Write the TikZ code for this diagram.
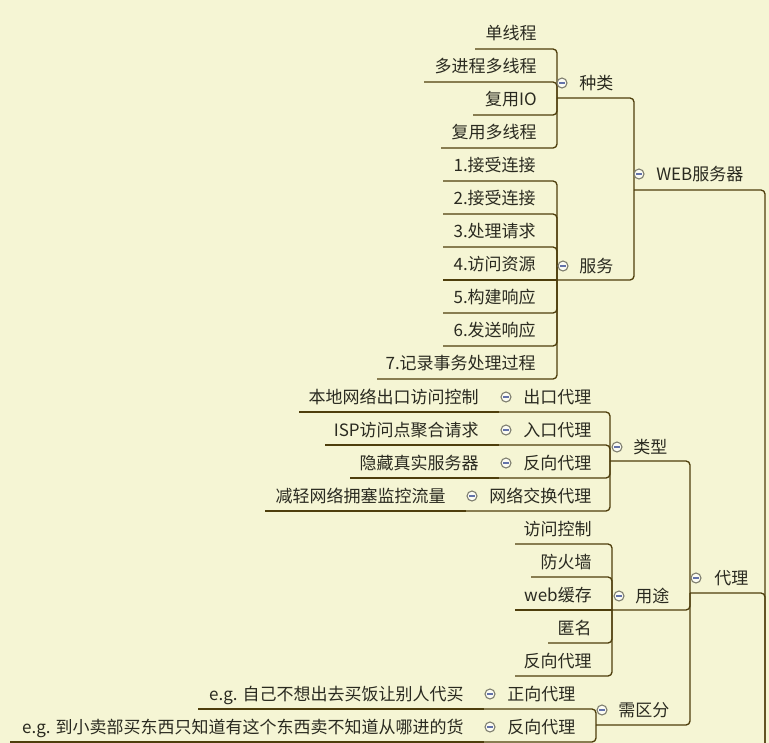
\documentclass[tikz,border=0pt]{standalone}
\usepackage{fontspec}
\setmainfont{Noto Sans CJK SC}
\definecolor{bg}{RGB}{245,245,212}
\definecolor{ln}{RGB}{78,62,12}
\definecolor{tx}{RGB}{42,42,32}
\definecolor{ring}{RGB}{125,125,110}
\definecolor{mn}{RGB}{100,115,170}
\tikzset{
 lbl/.style={inner sep=0pt, text=tx, font=\fontsize{12.75pt}{15pt}\selectfont},
 lt/.style={lbl, anchor=base east},
 rt/.style={lbl, anchor=base west},
 conn/.style={draw=ln, line width=1pt, rounded corners=3pt},
 fold/.style={circle, draw=ring, fill=white!70!bg, line width=0.8pt, minimum size=7.5pt, inner sep=0pt,
   path picture={\draw[mn, line width=0.9pt] ([xshift=-2.2pt]path picture bounding box.center) -- ([xshift=2.2pt]path picture bounding box.center);}}
}
\begin{document}
\begin{tikzpicture}[x=0.75pt,y=-0.75pt]
\fill[bg] (0,0) rectangle (769,743);
\useasboundingbox (0,0) rectangle (769,743);
\clip (0,0) rectangle (769,743);

% ---------- coordinates (underline left ends) ----------
\coordinate (root-u) at (765,900);
\coordinate (web-u) at (634,190);
\coordinate (zl-u) at (557,98);
\coordinate (a1-u) at (475,49);
\coordinate (a2-u) at (424,82);
\coordinate (a3-u) at (473,115);
\coordinate (a4-u) at (441,148);
\coordinate (fw-u) at (557,280);
\coordinate (b1-u) at (443,181);
\coordinate (b2-u) at (443,214);
\coordinate (b3-u) at (443,247);
\coordinate (b4-u) at (443,280);
\coordinate (b5-u) at (443,313);
\coordinate (b6-u) at (443,346);
\coordinate (b7-u) at (377,379);
\coordinate (dl-u) at (690,593);
\coordinate (lx-u) at (610,461);
\coordinate (ck-u) at (499,412);
\coordinate (ck1-u) at (299,412);
\coordinate (rk-u) at (499,445);
\coordinate (rk1-u) at (325,445);
\coordinate (fx-u) at (499,478);
\coordinate (fx1-u) at (350,478);
\coordinate (jh-u) at (466,511);
\coordinate (jh1-u) at (265,511);
\coordinate (yt-u) at (612,610);
\coordinate (c1-u) at (515,544);
\coordinate (c2-u) at (531,577);
\coordinate (c3-u) at (515,610);
\coordinate (c4-u) at (548,643);
\coordinate (c5-u) at (515,676);
\coordinate (xq-u) at (596,725);
\coordinate (zx-u) at (484,709);
\coordinate (zx1-u) at (198,709);
\coordinate (fd-u) at (484,742);
\coordinate (fd1-u) at (10,742);

% ---------- connectors ----------
\draw[conn] (web-u) -| (root-u);
\draw[conn] (dl-u) -| (root-u);
\draw[conn] (zl-u) -| (web-u);
\draw[conn] (fw-u) -| (web-u);
\foreach \n in {a1,a2,a3,a4} \draw[conn] (\n-u) -| (zl-u);
\foreach \n in {b1,b2,b3,b5,b6,b7} \draw[conn] (\n-u) -| (fw-u);
\draw[conn] (b4-u) -- (fw-u);
\draw[conn] (lx-u) -| (dl-u);
\draw[conn] (yt-u) -| (dl-u);
\draw[conn] (xq-u) -| (dl-u);
\foreach \n in {ck,rk,fx,jh} {\draw[conn] (\n-u) -| (lx-u); \draw[conn] (\n1-u) -- (\n-u);}
\foreach \n in {c1,c2,c4,c5} \draw[conn] (\n-u) -| (yt-u);
\draw[conn] (c3-u) -- (yt-u);
\foreach \n in {zx,fd} {\draw[conn] (\n-u) -| (xq-u); \draw[conn] (\n1-u) -- (\n-u);}

% ---------- topics ----------
\node[rt] (web) at (656,180) {WEB服务器};
\node[fold] (f-web) at (639,174) {};
\node[rt] (zl) at (579,89) {种类};
\node[fold] (f-zl) at (562,83) {};
\node[lt] (a1) at (537,39) {单线程};
\node[lt] (a2) at (537,72) {多进程多线程};
\node[lt] (a3) at (537,105) {复用IO};
\node[lt] (a4) at (537,138) {复用多线程};
\node[rt] (fw) at (579,272) {服务};
\node[fold] (f-fw) at (563,266) {};
\node[lt] (b1) at (536,171) {1.接受连接};
\node[lt] (b2) at (536,204) {2.接受连接};
\node[lt] (b3) at (536,237) {3.处理请求};
\node[lt] (b4) at (536,270) {4.访问资源};
\node[lt] (b5) at (536,303) {5.构建响应};
\node[lt] (b6) at (536,336) {6.发送响应};
\node[lt] (b7) at (536,369) {7.记录事务处理过程};

\node[rt] (dl) at (714,584) {代理};
\node[fold] (f-dl) at (696,578) {};
\node[rt] (lx) at (633,453) {类型};
\node[fold] (f-lx) at (617,447) {};
\node[rt] (ck) at (523,403) {出口代理};
\node[fold] (f-ck) at (506,397) {};
\node[lt] (ck1) at (479,403) {本地网络出口访问控制};
\node[rt] (rk) at (523,436) {入口代理};
\node[fold] (f-rk) at (506,430) {};
\node[lt] (rk1) at (479,436) {ISP访问点聚合请求};
\node[rt] (fx) at (523,469) {反向代理};
\node[fold] (f-fx) at (506,463) {};
\node[lt] (fx1) at (479,469) {隐藏真实服务器};
\node[rt] (jh) at (489,502) {网络交换代理};
\node[fold] (f-jh) at (472,496) {};
\node[lt] (jh1) at (446,502) {减轻网络拥塞监控流量};
\node[rt] (yt) at (635,602) {用途};
\node[fold] (f-yt) at (619,596) {};
\node[lt] (c1) at (592,535) {访问控制};
\node[lt] (c2) at (592,568) {防火墙};
\node[lt] (c3) at (592,601) {web缓存};
\node[lt] (c4) at (592,634) {匿名};
\node[lt] (c5) at (592,667) {反向代理};
\node[rt] (xq) at (618,716) {需区分};
\node[fold] (f-xq) at (602,710) {};
\node[rt] (zx) at (507,700) {正向代理};
\node[fold] (f-zx) at (490,694) {};
\node[lt] (zx1) at (464,700) {e.g. 自己不想出去买饭让别人代买};
\node[rt] (fd) at (507,733) {反向代理};
\node[fold] (f-fd) at (490,727) {};
\node[lt] (fd1) at (464,733) {e.g. 到小卖部买东西只知道有这个东西卖不知道从哪进的货};
\end{tikzpicture}
\end{document}
